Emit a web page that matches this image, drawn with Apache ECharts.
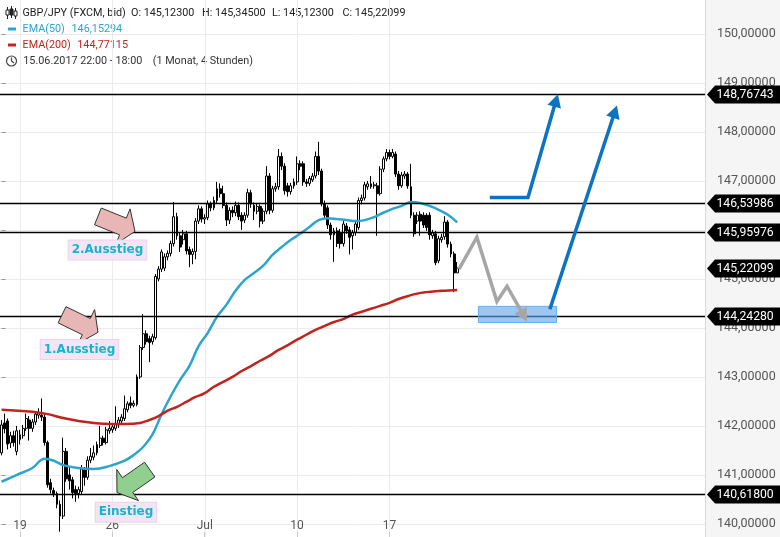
<!DOCTYPE html>
<html><head><meta charset="utf-8">
<script src="https://cdn.jsdelivr.net/npm/echarts@6/dist/echarts.min.js"></script>
<style>html,body{margin:0;padding:0;background:#fff}#c{width:780px;height:537px}</style>
</head><body><div id="c"></div>
<script>
// ---- data: 4h candles [open, close, low, high]
const candles = [
[141.45,142.02,141.40,142.12],[142.06,141.94,141.85,142.25],[142.10,141.63,141.52,142.15],[141.65,141.80,141.55,141.88],
[141.80,141.66,141.58,141.90],[141.48,141.90,141.40,142.00],[141.72,141.82,141.62,141.92],[141.80,141.95,141.74,142.02],
[141.95,142.15,141.90,142.25],[142.12,141.95,141.70,142.20],[141.95,142.08,141.88,142.14],[142.08,142.24,142.02,142.30],
[142.22,142.27,142.15,142.36],[142.22,142.18,142.10,142.56],[142.18,141.66,141.60,142.25],[141.66,140.80,140.74,141.70],
[140.84,140.70,140.62,140.92],[140.68,140.62,140.55,140.74],[140.62,140.40,140.32,140.66],[140.40,140.16,139.84,140.48],
[140.16,141.48,140.10,141.76],[141.48,140.92,140.86,141.55],[141.00,140.88,140.70,141.16],[140.90,140.64,140.52,140.96],
[140.70,140.62,140.45,140.78],[140.62,140.70,140.52,140.76],[140.66,141.12,140.60,141.20],[141.10,140.95,140.78,141.16],
[140.95,141.30,140.90,141.38],[141.30,141.38,141.24,141.55],[141.36,141.45,141.30,141.60],[141.45,141.62,141.40,141.68],
[141.60,141.75,141.55,142.00],[141.75,141.66,141.60,141.80],[141.66,141.92,141.62,141.98],[141.90,141.95,141.84,142.10],
[141.92,141.98,141.86,142.05],[141.95,142.05,141.90,142.40],[142.02,142.12,141.96,142.18],[142.10,142.18,142.04,142.24],
[142.15,142.35,142.10,142.62],[142.33,142.45,142.28,142.50],[142.47,142.42,142.36,142.60],[142.42,142.46,142.38,142.52],
[142.44,143.00,142.40,143.05],[143.00,143.60,142.96,143.65],[143.60,143.88,143.55,144.28],[143.88,143.72,143.66,143.95],
[143.78,143.70,143.30,143.84],[143.72,143.82,143.66,143.88],[143.80,145.05,143.76,145.10],[145.00,145.20,144.95,145.26],
[145.20,145.55,145.14,145.60],[145.22,145.45,145.16,145.52],[145.45,145.52,145.38,145.58],[145.52,145.72,145.46,145.78],
[145.72,146.27,145.66,146.57],[146.27,145.88,145.80,146.35],[145.88,145.65,145.55,145.95],[145.80,145.92,145.70,146.00],
[145.92,145.57,145.50,145.98],[145.60,145.50,145.24,145.66],[145.50,145.56,145.30,145.62],[145.56,146.18,145.40,146.24],
[146.18,146.43,146.12,146.50],[146.43,146.22,146.15,146.48],[146.22,146.25,146.12,146.32],[146.25,146.53,146.20,146.60],
[146.53,146.45,146.38,146.58],[146.45,146.60,146.40,146.68],[146.60,146.84,146.55,146.98],[146.84,146.74,146.66,146.95],
[146.74,146.50,146.44,146.90],[146.50,146.20,146.08,146.56],[146.20,146.40,146.12,146.46],[146.40,146.35,146.26,146.48],
[146.35,146.50,146.28,146.58],[146.50,146.27,146.20,146.56],[146.30,146.18,146.00,146.36],[146.20,146.30,146.14,146.36],
[146.30,146.76,146.25,146.84],[146.76,146.53,146.45,146.82],[146.50,146.38,146.20,146.56],[146.38,146.48,146.32,146.55],
[146.48,146.18,146.05,146.52],[146.18,146.38,146.12,146.44],[146.38,147.10,146.32,147.30],[147.10,146.40,146.32,147.16],
[146.40,146.84,146.35,146.90],[146.84,146.88,146.78,146.96],[146.88,147.50,146.82,147.65],[147.50,147.30,147.22,147.58],
[147.30,146.80,146.72,147.36],[146.90,146.78,146.68,146.96],[146.78,146.90,146.72,146.96],[146.90,146.98,146.84,147.05],
[146.98,147.35,146.92,147.50],[147.35,147.30,147.22,147.42],[147.35,146.98,146.90,147.40],[146.98,146.95,146.88,147.04],
[146.95,147.05,146.90,147.10],[147.02,147.10,146.98,147.16],[147.10,147.50,147.05,147.60],[147.50,147.20,147.12,147.80],
[147.20,146.53,146.48,147.25],[146.53,146.30,146.22,146.60],[146.45,146.10,146.02,146.50],[146.10,145.90,145.80,146.15],
[145.90,145.98,145.35,146.04],[145.98,145.72,145.65,146.05],[145.95,145.72,145.62,146.02],[145.72,146.12,145.66,146.18],
[146.08,145.98,145.92,146.14],[146.00,145.85,145.50,146.06],[145.88,145.95,145.60,146.00],[145.95,146.12,145.88,146.18],
[146.05,146.60,146.00,146.66],[146.60,146.65,146.52,146.72],[146.65,146.92,146.60,146.98],[146.88,146.94,146.82,147.00],
[146.88,146.94,146.84,147.10],[146.90,146.92,146.84,146.98],[146.90,146.74,145.88,146.96],[146.74,147.24,146.70,147.30],
[147.24,147.45,147.18,147.50],[147.45,147.58,147.40,147.65],[147.58,147.50,147.44,147.64],[147.50,147.58,147.46,147.65],
[147.55,147.14,147.08,147.60],[147.14,146.90,146.82,147.20],[146.90,147.12,146.86,147.18],[147.10,147.14,147.04,147.20],
[147.14,146.90,146.84,147.18],[146.88,146.30,146.24,147.35],[146.30,145.92,145.86,146.36],[146.18,146.30,146.12,146.36],
[146.32,146.18,145.88,146.38],[146.30,146.10,146.04,146.36],[146.30,146.05,145.98,146.34],[146.30,145.90,145.80,146.36],
[145.88,145.94,145.82,146.00],[145.92,145.33,145.28,145.98],[145.37,145.82,145.32,145.88],[145.80,145.85,145.74,145.92],
[145.86,146.16,145.80,146.28],[146.16,145.71,145.64,146.20],[145.71,145.51,145.44,145.76],[145.51,145.123,144.73,145.56],
[145.123,145.22099,145.123,145.345]
];
// EMA readings: [candle index, value]
const ema50 = [[0,140.86],[5,141.00],[10,141.14],[14,141.33],[17,141.29],[20,141.20],[25,141.14],[30,141.12],[35,141.18],
[40,141.29],[43,141.41],[46,141.57],[49,141.82],[52,142.24],[55,142.61],[58,142.94],[61,143.22],[64,143.63],[67,143.90],
[70,144.23],[73,144.47],[76,144.76],[79,144.98],[82,145.12],[85,145.27],[88,145.49],[91,145.65],[94,145.80],[97,145.92],
[100,146.06],[103,146.20],[106,146.24],[109,146.22],[112,146.20],[115,146.18],[118,146.20],[121,146.26],[124,146.35],
[127,146.43],[130,146.49],[133,146.57],[136,146.55],[139,146.49],[142,146.41],[145,146.31],[148,146.15294]];
const ema200 = [[0,142.33],[10,142.29],[15,142.24],[20,142.16],[25,142.10],[30,142.06],[35,142.04],[40,142.04],[45,142.06],
[48,142.12],[51,142.20],[54,142.31],[57,142.39],[60,142.49],[63,142.59],[66,142.67],[69,142.80],[72,142.90],[75,143.00],
[78,143.12],[81,143.22],[84,143.33],[87,143.43],[90,143.55],[93,143.65],[96,143.76],[99,143.86],[102,143.96],[105,144.04],
[108,144.12],[111,144.18],[114,144.27],[117,144.33],[120,144.39],[123,144.45],[126,144.51],[129,144.59],[132,144.65],
[135,144.70],[138,144.73],[141,144.75],[144,144.76],[148,144.77115]];
const levelLines = [148.76743, 146.53986, 145.95976, 144.24280, 140.61800];
const xTickCats = ['2017-06-18 22:00','2017-06-25 22:00','2017-07-02 22:00','2017-07-09 22:00','2017-07-16 22:00'];
const xTickLabels = ['19','26','Jul','10','17'];
const yMin = 139, yMax = 151, yStep = 1;
// drawn forecast (candle index, price)
const projGray = [[148.6,145.20],[154.4,145.85],[160.9,144.54],[164.2,144.85],[170.7,144.13]];
const projBox = [[154.9,144.44],[180.3,144.11]];
const projUp1 = [[158.6,146.66],[171.0,146.66],[180.7,148.77]];
const projUp2 = [[178.1,144.38],[199.9,148.54]];
const notes = [
  {text:'2.Ausstieg', tip:[43.35,145.97], angle:22, label:[34.41,145.59], fill:'#e9b6b6'},
  {text:'1.Ausstieg', tip:[31.33,143.91], angle:26, label:[25.32,143.56], fill:'#e9b6b6'},
  {text:'Einstieg', tip:[37.5,140.64], angle:145, label:[40.42,140.24], fill:'#90cf8e'}
];

// ---- time categories (4h, forex week)
const slots = 229;
const categories = [];
const pad = n => String(n).padStart(2,'0');
for (let t = Date.UTC(2017,5,15,22); categories.length < slots; t += 4*3600e3) {
  const d = new Date(t), wd = d.getUTCDay(), h = d.getUTCHours();
  if (wd === 6 || (wd === 5 && h >= 22) || (wd === 0 && h < 22)) continue;
  categories.push(d.getUTCFullYear()+'-'+pad(d.getUTCMonth()+1)+'-'+pad(d.getUTCDate())+' '+pad(h)+':00');
}

const fmt5 = v => v.toFixed(5).replace('.', ',');
const last = candles[candles.length-1];
const W = 780, H = 537, plotRight = 705;
// vertical placement: grid extends past the canvas so that 139..151 map to the picture
const pxPerUnit = 49.0, anchorP = 148.76743, anchorY = 94.3;
const gridTop = anchorY - (yMax - anchorP) * pxPerUnit;
const gridBottomY = anchorY + (anchorP - yMin) * pxPerUnit;

const isTick = (i, v) => xTickCats.indexOf(v) >= 0;
const font = 'Roboto';

function rot(p, a){ const c=Math.cos(a), s=Math.sin(a); return [p[0]*c-p[1]*s, p[0]*s+p[1]*c]; }
function head(tip, from, len, wid, color){
  const dx = tip[0]-from[0], dy = tip[1]-from[1], L = Math.hypot(dx,dy);
  const ux = dx/L, uy = dy/L, nx = -uy, ny = ux;
  const bx = tip[0]-ux*len, by = tip[1]-uy*len;
  return {type:'polygon', shape:{points:[tip,[bx+nx*wid/2,by+ny*wid/2],[bx-nx*wid/2,by-ny*wid/2]]}, style:{fill:color}};
}
function trimEnd(pts, d){
  const a = pts[pts.length-2], b = pts[pts.length-1];
  const L = Math.hypot(b[0]-a[0], b[1]-a[1]);
  const out = pts.slice(0,-1);
  out.push([b[0]-(b[0]-a[0])/L*d, b[1]-(b[1]-a[1])/L*d]);
  return out;
}

const chart = echarts.init(document.getElementById('c'), null, {renderer:'canvas'});
chart.setOption({
  animation: false,
  backgroundColor: '#f5f5f5',
  grid: {left: 0, right: W - plotRight, top: gridTop, bottom: H - gridBottomY, show: true,
         backgroundColor: '#ffffff', borderWidth: 0, containLabel: false, outerBoundsMode: 'none'},
  xAxis: [{
    type: 'category', data: categories, boundaryGap: true, position: 'bottom',
    offset: H - gridBottomY,
    axisLine: {show: false},
    axisTick: {show: true, inside: true, length: 5, alignWithLabel: true, interval: isTick, lineStyle: {color: '#c8c8c8'}},
    axisLabel: {show: true, inside: true, margin: 5, interval: isTick, color: '#555', fontSize: 12, fontFamily: font,
      formatter: v => xTickLabels[xTickCats.indexOf(v)] || ''},
    splitLine: {show: false}
  }, {
    type: 'value', min: -0.5, max: slots - 0.5, show: false
  }],
  yAxis: {
    type: 'value', position: 'right', min: yMin, max: yMax, interval: yStep, offset: 6,
    axisLine: {show: false},
    axisTick: {show: true, length: 4, lineStyle: {color: '#999'}},
    axisLabel: {margin: 6, color: '#555', fontSize: 12.5, fontFamily: font, formatter: v => fmt5(v)},
    splitLine: {show: true, lineStyle: {color: '#ebebeb', width: 1}}
  },
  graphic: {elements: [
    {type:'line', shape:{x1:plotRight+0.5, y1:0, x2:plotRight+0.5, y2:H}, style:{stroke:'#d9d9d9', lineWidth:1}, z: 10},
    // candle icon
    {type:'group', x:0, y:0, children:[
      {type:'line', shape:{x1:7.5,y1:7,x2:7.5,y2:19}, style:{stroke:'#222',lineWidth:1}},
      {type:'rect', shape:{x:6,y:10,width:3,height:5}, style:{fill:'#fff',stroke:'#222',lineWidth:1}},
      {type:'line', shape:{x1:11.5,y1:6,x2:11.5,y2:18}, style:{stroke:'#222',lineWidth:1}},
      {type:'rect', shape:{x:10,y:9,width:3,height:6}, style:{fill:'#222',stroke:'#222',lineWidth:1}},
      {type:'line', shape:{x1:15.5,y1:8,x2:15.5,y2:19}, style:{stroke:'#222',lineWidth:1}},
      {type:'rect', shape:{x:14,y:11,width:3,height:5}, style:{fill:'#fff',stroke:'#222',lineWidth:1}}
    ]},
    {type:'text', x:22.5, y:13, style:{text:'GBP/JPY (FXCM, bid)', font:'10.8px '+font, fill:'#222', verticalAlign:'middle'}},
    {type:'text', x:131, y:13, style:{text:'O: '+fmt5(last[0]), font:'10.8px '+font, fill:'#222', verticalAlign:'middle'}},
    {type:'text', x:202, y:13, style:{text:'H: '+fmt5(last[3]), font:'10.8px '+font, fill:'#222', verticalAlign:'middle'}},
    {type:'text', x:272, y:13, style:{text:'L: '+fmt5(last[2]), font:'10.8px '+font, fill:'#222', verticalAlign:'middle'}},
    {type:'text', x:342.5, y:13, style:{text:'C: '+fmt5(last[1]), font:'10.8px '+font, fill:'#222', verticalAlign:'middle'}},
    {type:'rect', shape:{x:8,y:27.5,width:8,height:3}, style:{fill:'#2ba5d0'}},
    {type:'text', x:22.5, y:29, style:{text:'EMA(50)', font:'10.8px '+font, fill:'#2ba5d0', verticalAlign:'middle'}},
    {type:'text', x:71.5, y:29, style:{text:fmt5(ema50[ema50.length-1][1]), font:'10.8px '+font, fill:'#2ba5d0', verticalAlign:'middle'}},
    {type:'rect', shape:{x:8,y:43.5,width:8,height:3}, style:{fill:'#c1241e'}},
    {type:'text', x:22.5, y:45, style:{text:'EMA(200)', font:'10.8px '+font, fill:'#c1241e', verticalAlign:'middle'}},
    {type:'text', x:77.3, y:45, style:{text:fmt5(ema200[ema200.length-1][1]), font:'10.8px '+font, fill:'#c1241e', verticalAlign:'middle'}},
    {type:'circle', shape:{cx:11.5, cy:61, r:5}, style:{fill:'none', stroke:'#444', lineWidth:1.2}},
    {type:'polyline', shape:{points:[[11.5,57.5],[11.5,61],[14,63]]}, style:{fill:'none', stroke:'#444', lineWidth:1.2}},
    {type:'text', x:23.3, y:61, style:{text:'15.06.2017 22:00 - 18:00', font:'10.8px '+font, fill:'#333', verticalAlign:'middle'}},
    {type:'text', x:152.7, y:61, style:{text:'(1 Monat, 4 Stunden)', font:'10.8px '+font, fill:'#333', verticalAlign:'middle'}}
  ]},
  series: [
    { // vertical week gridlines
      type: 'custom', xAxisIndex: 0, yAxisIndex: 0, z: 0, silent: true, clip: true,
      data: xTickCats.map(c => [c, yMin]),
      renderItem: (params, api) => {
        const cs = params.coordSys;
        const x = Math.round(api.coord([api.value(0), yMin])[0]) + 0.5;
        return {type:'line', shape:{x1:x, y1:cs.y, x2:x, y2:cs.y+cs.height}, style:{stroke:'#ebebeb', lineWidth:1}};
      }
    },
    {
      type: 'candlestick', xAxisIndex: 0, yAxisIndex: 0, z: 2, barWidth: 2.4,
      data: candles,
      itemStyle: {color: '#ffffff', color0: '#000000', borderColor: '#000000', borderColor0: '#000000', borderWidth: 1}
    },
    {
      type: 'line', xAxisIndex: 1, yAxisIndex: 0, z: 3, data: ema50, smooth: 0.4, showSymbol: false, symbol: 'none',
      lineStyle: {color: '#2ba5d0', width: 2.5}
    },
    {
      type: 'line', xAxisIndex: 1, yAxisIndex: 0, z: 3, data: ema200, smooth: 0.4, showSymbol: false, symbol: 'none',
      lineStyle: {color: '#c1241e', width: 2.5}
    },
    { // price levels + right-axis tags
      type: 'custom', xAxisIndex: 1, yAxisIndex: 0, z: 6, clip: false, silent: true,
      data: levelLines.map(v => [0, v, 1]).concat([[0, last[1], 0]]),
      renderItem: (params, api) => {
        const cs = params.coordSys;
        const y = Math.round(api.coord([0, api.value(1)])[1]) + 0.5;
        const r = cs.x + cs.width;
        const ch = [];
        if (api.value(2)) ch.push({type:'line', shape:{x1:cs.x, y1:y, x2:r, y2:y}, style:{stroke:'#000', lineWidth:1.3}});
        ch.push({type:'polygon', shape:{points:[[r+2,y],[r+10,y-9],[api.getWidth(),y-9],[api.getWidth(),y+9],[r+10,y+9]]}, style:{fill:'#000'}});
        ch.push({type:'text', style:{text:fmt5(api.value(1)), x:r+11.5, y:y+0.5, verticalAlign:'middle', fill:'#fff', font:'12.2px '+font}});
        return {type:'group', children: ch};
      }
    },
    { // forecast drawings and notes
      type: 'custom', xAxisIndex: 1, yAxisIndex: 0, z: 7, clip: false, silent: true,
      data: [[0, yMin]],
      renderItem: (params, api) => {
        const P = p => api.coord(p);
        const ch = [];
        const b0 = P(projBox[0]), b1 = P(projBox[1]);
        ch.push({type:'rect', shape:{x:b0[0], y:b0[1], width:b1[0]-b0[0], height:b1[1]-b0[1]},
          style:{fill:'rgba(95,165,238,0.62)', stroke:'#6aaee9', lineWidth:1}});
        const g = projGray.map(P);
        ch.push({type:'polyline', shape:{points:trimEnd(g, 8)}, style:{fill:'none', stroke:'#a6a6a6', lineWidth:3.5, lineJoin:'miter'}});
        ch.push(head(g[g.length-1], g[g.length-2], 13, 14, '#a6a6a6'));
        [projUp1, projUp2].forEach(pr => {
          const q = pr.map(P);
          ch.push({type:'polyline', shape:{points:trimEnd(q, 8)}, style:{fill:'none', stroke:'#0c72c2', lineWidth:3.5, lineJoin:'miter'}});
          ch.push(head(q[q.length-1], q[q.length-2], 13, 14, '#0c72c2'));
        });
        notes.forEach(n => {
          const t = P(n.tip), a = n.angle*Math.PI/180;
          const shape = [[0,0],[-13,-19],[-13,-9],[-40,-9],[-40,9],[-13,9],[-13,19]];
          const pts = shape.map(s => { const r = rot(s, a); return [t[0]+r[0], t[1]+r[1]]; });
          ch.push({type:'polygon', shape:{points:pts}, style:{fill:n.fill, stroke:'#333', lineWidth:1}});
          const l = P(n.label);
          ch.push({type:'text', style:{text:n.text, x:l[0], y:l[1], align:'center', verticalAlign:'middle',
            font:'bold 12px "DejaVu Sans"', fill:'#15b4d4', backgroundColor:'#f4e5f4', borderColor:'#ead3ea', borderWidth:1,
            padding:[4,3,3,3]}});
        });
        return {type:'group', children: ch};
      }
    }
  ]
});
</script></body></html>
